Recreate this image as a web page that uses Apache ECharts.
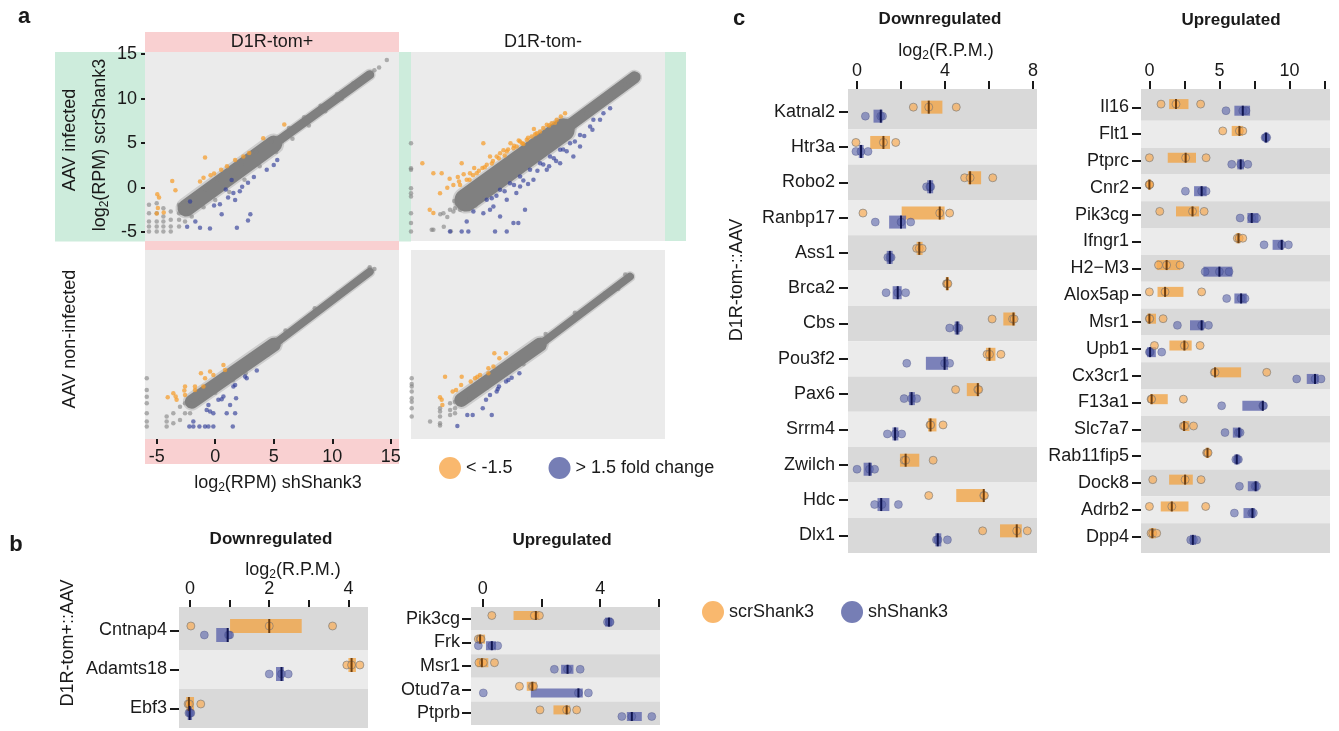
<!DOCTYPE html>
<html><head><meta charset="utf-8">
<script src="https://cdn.jsdelivr.net/npm/echarts@6/dist/echarts.min.js"></script>
<style>html,body{margin:0;padding:0;background:#fff}#c{width:1339px;height:731px}</style>
</head><body><div id="c"></div>
<script>
// ================= DATA =================
// ---- panel a: scatter, x = log2(RPM) shShank3, y = log2(RPM) scrShank3 ----
const aTickValues = [-5, 0, 5, 10, 15];
// top-left: AAV infected, D1R-tom+
const tlCoreLo = [[-2.5, -2.3], [5.0, 4.9]];
const tlCoreHi = [[4.5, 4.4], [13.2, 12.7]];
const tlGray = [[-5.66,-1.93],[-5.66,-2.87],[-5.66,-3.8],[-5.66,-4.37],[-5.66,-4.93],[-5.0,-1.75],[-5.0,-2.87],[-5.0,-3.8],[-5.0,-4.37],[-5.0,-4.93],
  [-4.43,-2.31],[-4.43,-3.24],[-4.43,-3.8],[-4.43,-4.37],[-4.43,-4.93],[-3.8,-2.68],[-3.8,-3.62],[-3.8,-4.37],[-3.8,-4.93],[-3.09,-1.93],
  [-3.09,-2.87],[-3.09,-3.62],[-3.09,-4.37],[-2.58,-1.75],[-2.58,-2.87],[-2.58,-3.8],[-2.01,-2.31],[-2.01,-3.24],
  [-1.5,-0.6],[-0.8,-0.2],[0.2,0.9],[1.0,1.6],[2.2,2.6],[3.5,4.0],[4.8,5.2],[6.3,6.7],[7.6,7.9],[9.0,9.2],[10.4,10.5],[11.8,11.7],
  [-1.0,-2.2],[0.0,-1.4],[1.2,-0.5],[2.5,0.9],[3.8,2.4],[5.2,4.0],[6.6,5.5],[8.0,7.0],[9.4,8.6],[10.8,10.0],[12.2,11.6],
  [13.6,13.2],[14.0,13.5],[14.66,14.36],[13.0,12.7],[12.5,12.2]];
const tlUp = [[-4.95,-0.73],[-4.8,-1.1],[-4.9,-2.3],[-5.0,-2.9],[-4.4,-2.8],[-3.67,0.76],[-3.4,-0.3],[-1.3,0.69],[-1.0,1.1],[-0.87,3.38],
  [-0.4,1.4],[-0.1,1.6],[0.5,2.0],[1.0,2.4],[1.7,3.1],[2.4,3.5],[2.9,3.9],[4.1,5.56],[5.9,7.1]];
const tlDown = [[-2.15,-1.56],[-1.7,-3.8],[-2.4,-4.4],[-1.3,-4.5],[-0.45,-4.6],[-0.1,-2.0],[0.4,-1.87],[0.55,-3.0],[1.1,-1.1],[1.4,0.87],
  [1.55,-0.6],[1.7,-1.4],[1.85,-4.5],[2.1,-0.4],[2.8,0.55],[2.8,-3.7],[3.0,-3.0],[3.3,1.2],[4.4,2.0],[5.0,2.55],[5.3,3.1],[0.9,-0.2],[2.3,0.1]];
// top-right: AAV infected, D1R-tom-
const trCoreLo = [[-1.3, -1.4], [7.0, 6.5]];
const trCoreHi = [[6.5, 6.0], [13.1, 12.4]];
const trGray = [[-6,4.99],[-6,2.19],[-6,2.0],[-6,-0.06],[-6,-0.62],[-6,-1.0],[-6,-2.87],[-6,-3.99],[-6,-4.93],
  [-4.23,-4.74],[-4.09,-4.74],[-3.23,-2.87],[-2.67,-2.49],[-2.38,-2.68],[-2.24,-2.31],[-2.1,-1.8],[-1.8,-2.5],[-1.4,-2.1],
  [-3.5,-3.0],[-2.9,-3.3],[-2.6,-4.9],[-3.2,-4.4],[-2.3,-1.5],[-0.5,-2.0],[0.3,-1.2],
  [13.4,12.6],[12.0,11.6],[11.0,10.2],[10.3,9.9],[9.0,8.3],[12.6,11.9]];
const trUp = [[-1.81,0.31],[-1.24,0.88],[-0.39,1.63],[0.47,2.57],[1.32,3.5],[2.18,4.06],[3.03,4.62],[3.89,5.37],[4.74,6.12],[5.6,7.06],[6.45,7.62],[7.16,8.37],
  [-1.67,2.75],[0.18,5.0],[-5.03,2.75],[-4.09,1.63],[-3.38,1.63],[-3.52,-0.62],[-4.09,-2.86],[-2.38,0.31],[-0.96,1.63],[0.75,3.5],[1.61,3.87],[2.75,4.43],
  [3.32,5.19],[4.31,5.75],[5.02,6.31],[6.02,7.24],[-2.0,1.2],[-1.5,1.5],[-0.6,2.2],[0.1,2.2],[1.0,3.0],[2.0,3.6],[2.5,5.0],[3.6,4.9],[4.5,6.6],
  [-2.9,0.0],[-4.4,-2.5],[-2.7,1.0],[-1.0,0.9],[-0.2,1.9],[0.3,2.3],[0.9,2.7],[1.5,3.3],[2.3,4.3],[2.8,4.7],[3.5,5.0],[4.0,5.6],[4.6,6.0],
  [5.3,6.7],[5.8,7.0],[6.3,7.3],[6.8,8.0],[-1.9,0.7],[-0.7,1.4],[1.9,4.2],[3.2,5.3]];
const trDown = [[-0.67,-2.68],[0.47,-1.37],[1.61,-0.24],[2.46,0.5],[3.32,1.25],[4.17,2.0],[5.03,2.75],[5.88,3.5],[6.74,4.25],[7.59,5.0],[8.44,5.93],
  [9.3,6.87],[10.15,7.62],[11.01,8.93],[8.44,4.62],[7.87,3.5],[6.74,2.75],[5.6,2.0],[4.46,0.88],[3.32,0.13],[2.18,-1.37],[1.04,-2.12],[0.18,-2.87],
  [-1.24,-3.8],[-2.67,-4.93],[-1.67,-4.93],[-1.1,-4.93],[1.18,-4.93],[2.18,-4.93],[2.75,-3.99],[3.17,-3.99],[3.74,-2.49],[1.61,-3.24],[0.75,-2.49],
  [9.58,7.62],[10.44,8.37],[0.9,-1.2],[1.3,-0.9],[2.0,-0.4],[2.8,0.3],[3.6,0.8],[4.8,1.9],[5.3,2.6],[6.2,3.3],[7.0,4.3],[7.3,4.1],[8.0,5.2],
  [8.8,5.8],[9.5,6.5],[3.0,-0.6],[4.0,0.4],[5.8,2.4],[6.4,3.0]];
// bottom-left: AAV non-infected, D1R-tom+
const blCoreLo = [[-2.0, -1.8], [5.0, 4.6]];
const blCoreHi = [[4.5, 4.1], [13.2, 12.8]];
const blGray = [[-5.85,0.83],[-5.85,-0.49],[-5.85,-1.24],[-5.85,-1.99],[-5.85,-3.1],[-5.85,-4.04],[-5.85,-4.6],[-4.15,-3.48],[-4.15,-4.6],[-4.15,-4.04],
  [-3.58,-3.1],[-3.58,-4.23],[-3.01,-2.36],[-3.01,-3.86],[-2.58,-1.99],[-2.58,-3.1],[-2.15,-1.6],[-2.15,-3.1],[-1.2,-1.5],[0.0,-0.8],[1.5,0.6],
  [3.0,3.4],[6.0,6.2],[8.5,8.7],[10.5,10.4],[12.0,11.7],[13.6,13.1],[13.2,13.3],[2.6,1.4],[4.5,3.5]];
const blUp = [[-4.06,-1.3],[-3.38,-1.22],[-3.3,-1.6],[-2.58,-0.11],[-2.64,-0.56],[-2.58,-1.05],[-1.73,-0.11],[-1.73,-0.49],[-1.22,1.39],[-0.87,0.83],
  [-0.44,1.58],[-0.16,1.2],[-1.01,-0.11],[0.7,2.33],[0.84,1.77],[-3.58,-0.85]];
const blDown = [[-2.21,-4.6],[-1.87,-4.6],[-1.35,-4.6],[-0.87,-4.6],[-0.58,-4.6],[-0.16,-4.6],[1.5,-4.6],[-1.87,-4.04],[-0.73,-2.73],[-0.44,-2.92],
  [-0.16,-3.1],[0.27,-1.6],[0.55,-1.53],[0.7,-1.23],[0.98,-3.1],[1.27,-2.17],[1.7,-3.1],[1.78,-1.42],[1.55,-0.11],[1.7,0.08],[2.69,0.83],
  [3.55,1.69],[2.55,1.02],[-0.58,-2.17]];
// bottom-right: AAV non-infected, D1R-tom-
const brCoreLo = [[-1.7, -1.6], [5.0, 4.6]];
const brCoreHi = [[4.5, 4.1], [12.7, 12.25]];
const brGray = [[-5.94,0.83],[-5.94,0.19],[-5.94,-0.11],[-5.94,-0.67],[-5.94,-1.42],[-5.94,-1.8],[-5.94,-2.54],[-5.94,-3.48],[-4.37,-4.04],
  [-3.52,-2.54],[-3.52,-2.92],[-3.52,-3.48],[-3.52,-4.23],[-3.52,-4.48],[-2.66,-1.99],[-2.66,-2.73],[-2.66,-3.29],[-2.24,-1.8],[-2.24,-2.54],
  [-2.24,-3.1],[-1.0,-1.6],[0.5,-0.2],[2.4,2.7],[5.5,5.8],[8.0,8.2],[10.6,10.4],[12.86,12.33],[12.3,12.5],[11.7,10.9],[3.6,2.4]];
const brUp = [[-3.09,1.01],[-1.67,1.01],[-1.72,0.08],[-2.44,-0.67],[-2.15,-0.49],[-0.9,0.46],[-0.53,0.83],[-0.33,1.01],[-0.1,1.2],[0.61,1.95],
  [1.04,2.14],[1.12,3.64],[1.55,3.08],[2.12,3.64],[-3.52,-1.3],[-3.38,-1.6],[-3.32,-2.17],[0.61,1.39]];
const brDown = [[-2.04,-4.53],[-1.19,-3.29],[-0.73,-3.29],[0.13,-2.54],[0.9,-3.29],[0.41,-1.6],[0.75,-1.04],[1.41,-0.37],[1.52,-0.11],[2.12,0.46],
  [2.32,0.64],[2.6,0.9],[3.26,1.39],[1.32,-0.67]];

// ---- panel b: D1R-tom+::AAV, log2(R.P.M.) ----
const bDownGenes = ['Cntnap4', 'Adamts18', 'Ebf3'];
const bDownScr = [[0.02, 2.0, 3.6], [3.96, 4.08, 4.29], [-0.05, -0.02, 0.27]];
const bDownScrBar = [[1.01, 2.82], [4.0, 4.19], [-0.1, 0.1]];
const bDownScrMid = [2.0, 4.08, -0.03];
const bDownSh = [[0.36, 0.97, 1.0], [2.0, 2.31, 2.48], [-0.03, 0.0, 0.02]];
const bDownShBar = [[0.66, 0.97], [2.17, 2.37], [-0.06, 0.05]];
const bDownShMid = [0.95, 2.31, -0.01];

const bUpGenes = ['Pik3cg', 'Frk', 'Msr1', 'Otud7a', 'Ptprb'];
const bUpScr = [[0.31, 1.76, 1.93], [-0.15, -0.09, -0.06], [-0.13, 0.02, 0.4], [1.25, 1.69, 1.73], [1.95, 2.86, 3.2]];
const bUpScrBar = [[1.05, 1.93], [-0.2, 0.08], [-0.2, 0.19], [1.5, 1.84], [2.41, 2.98]];
const bUpScrMid = [1.81, -0.09, -0.03, 1.69, 2.86];
const bUpSh = [[4.25, 4.32, 4.34], [-0.15, 0.31, 0.51], [2.44, 2.89, 3.32], [0.02, 3.26, 3.6], [4.74, 5.08, 5.76]];
const bUpShBar = [[4.17, 4.4], [0.11, 0.45], [2.67, 3.09], [1.64, 3.41], [4.91, 5.42]];
const bUpShMid = [4.3, 0.31, 2.89, 3.26, 5.08];

// ---- panel c: D1R-tom-::AAV ----
const cDownGenes = ['Katnal2', 'Htr3a', 'Robo2', 'Ranbp17', 'Ass1', 'Brca2', 'Cbs', 'Pou3f2', 'Pax6', 'Srrm4', 'Zwilch', 'Hdc', 'Dlx1'];
const cDownScr = [[2.56,3.26,4.51],[-0.05,1.2,1.76],[4.89,5.14,6.17],[0.27,3.76,4.21],[2.71,2.83,2.96],[4.07,4.1,4.13],[6.14,7.07,7.14],
  [5.91,6.02,6.54],[4.48,5.49,5.53],[3.32,3.35,3.91],[2.15,2.21,3.46],[3.26,5.76,5.79],[5.71,7.26,7.74]];
const cDownScrBar = [[2.92,3.88],[0.6,1.5],[5.04,5.64],[2.03,3.98],[2.71,2.98],[4.03,4.18],[6.65,7.19],[5.86,6.29],[4.99,5.56],[3.23,3.61],
  [1.95,2.83],[4.51,5.79],[6.5,7.49]];
const cDownScrMid = [3.26,1.2,5.14,3.76,2.83,4.1,7.11,6.02,5.49,3.34,2.21,5.76,7.26];
const cDownSh = [[0.38,1.08,1.16],[-0.05,0.18,0.5],[3.16,3.31,3.35],[0.83,2.0,2.44],[1.4,1.5,1.55],[1.32,1.85,2.21],[4.21,4.54,4.63],
  [2.26,3.98,4.21],[2.14,2.48,2.71],[1.38,1.73,2.03],[0.0,0.57,0.8],[0.8,1.13,1.88],[3.61,3.68,4.11]];
const cDownShBar = [[0.75,1.16],[0.08,0.3],[3.19,3.46],[1.46,2.23],[1.35,1.62],[1.62,2.03],[4.44,4.66],[3.13,4.14],[2.36,2.63],[1.61,1.88],
  [0.3,0.68],[0.93,1.47],[3.56,3.83]];
const cDownShMid = [1.08,0.18,3.32,2.0,1.49,1.85,4.56,3.98,2.48,1.73,0.57,1.1,3.67];

const cUpGenes = ['Il16', 'Flt1', 'Ptprc', 'Cnr2', 'Pik3cg', 'Ifngr1', 'H2\u2212M3', 'Alox5ap', 'Msr1', 'Upb1', 'Cx3cr1', 'F13a1', 'Slc7a7', 'Rab11fip5', 'Dock8', 'Adrb2', 'Dpp4'];
const cUpScr = [[0.83,1.9,3.66],[5.24,6.43,6.67],[0,2.59,4.05],[0,0,0.02],[0.74,3.08,3.91],[6.28,6.41,6.67],[0.65,1.23,2.19],[0,1.12,3.73],
  [0,0.02,0.98],[0.36,2.5,3.62],[4.64,4.69,8.38],[0.12,0.16,2.43],[2.43,2.52,3.15],[4.09,4.15,4.19],[0.24,2.55,3.69],[0,1.6,4.02],[0.12,0.24,0.52]];
const cUpScrBar = [[1.41,2.79],[5.88,6.67],[1.31,3.33],[-0.1,0.12],[1.9,3.55],[6.17,6.52],[0.52,2.19],[0.58,2.43],[-0.16,0.47],[1.43,3.02],
  [4.64,6.55],[0.05,1.31],[2.38,2.86],[4.0,4.29],[1.41,3.1],[0.81,2.79],[0,0.47]];
const cUpScrMid = [1.9,6.43,2.59,0,3.08,6.36,1.23,1.12,0,2.5,4.69,0.16,2.48,4.15,2.55,1.6,0.21];
const cUpSh = [[5.47,6.67,6.9],[8.26,8.33,8.38],[5.88,6.52,7.03],[2.57,3.73,4.05],[6.48,7.31,7.66],[8.19,9.45,9.93],[3.98,5.0,5.69],
  [5.52,6.55,6.83],[2.0,3.73,4.22],[0,0.05,0.88],[10.52,11.83,12.26],[5.16,8.1,8.15],[5.4,6.36,6.48],[6.17,6.28,6.36],[6.43,7.55,7.66],
  [6.07,7.31,7.43],[2.95,3.15,3.38]];
const cUpShBar = [[6.07,7.19],[8.19,8.5],[6.28,6.76],[3.19,4.09],[7.0,7.79],[8.8,9.58],[3.86,5.92],[6.07,6.95],[2.9,3.91],[-0.16,0.46],
  [11.24,12.08],[6.64,8.15],[5.96,6.55],[6.07,6.43],[7.03,7.79],[6.72,7.55],[2.9,3.33]];
const cUpShMid = [6.67,8.33,6.52,3.73,7.31,9.45,5.0,6.55,3.73,0.05,11.83,8.1,6.41,6.24,7.59,7.36,3.1];

// ================= STYLE / BUILD =================
const FONT = '"Liberation Sans", Arial, Helvetica, sans-serif';
const INK = '#1a1a1a';
const PINK = '#f9d0d1', GREEN = '#cdecdc', BG = '#ebebeb', BAND_D = '#d9d9d9', BAND_L = '#ebebeb';

const chart = echarts.init(document.getElementById('c'));

const grids = [
  {left:145, top:52, width:254, height:189},
  {left:411, top:52, width:254, height:189},
  {left:145, top:250, width:254, height:189},
  {left:411, top:250, width:254, height:189},
  {left:179, top:611, width:189, height:117},
  {left:471, top:607, width:189, height:118},
  {left:848, top:94, width:189, height:459},
  {left:1141, top:94, width:189, height:456}
].map((g, i) => Object.assign(g, i < 4 ? {show:true, backgroundColor:BG, borderWidth:0} : {show:false}));

const lbl = (extra) => Object.assign({fontFamily:FONT, fontSize:18, color:INK}, extra);
const tick = (len) => ({show:true, length:len, lineStyle:{color:INK, width:2}});
const noLine = {show:false, onZero:false};

function aX(showAx) {
  return {type:'value', min:-6, max:15.7, show:showAx, position:'bottom', splitLine:{show:false}, axisLine:noLine,
    axisTick:Object.assign(tick(5), {customValues:aTickValues}), axisLabel:lbl({margin:9, customValues:aTickValues})};
}
function aY(showAx) {
  return {type:'value', min:-6, max:15.25, show:showAx, position:'left', splitLine:{show:false}, axisLine:noLine,
    axisTick:Object.assign(tick(4), {customValues:aTickValues}), axisLabel:lbl({margin:8, customValues:aTickValues})};
}
function topX(min, max, ticks, labels, offset, tlen) {
  return {type:'value', min, max, position:'top', offset, splitLine:{show:false}, axisLine:noLine,
    axisTick:Object.assign(tick(tlen), {customValues:ticks}), axisLabel:lbl({margin:9, customValues:labels})};
}
function catY(genes, margin) {
  return {type:'category', data:genes, inverse:true, position:'left', axisLine:noLine,
    axisTick:Object.assign(tick(9), {alignWithLabel:true}), axisLabel:lbl({margin}),
    splitLine:{show:false}, splitArea:{show:true, areaStyle:{color:[BAND_D, BAND_L]}}};
}

const xAxes = [aX(false), aX(false), aX(true), aX(false),
  topX(-0.28, 4.495, [0,1,2,3,4], [0,2,4], 4, 7),
  topX(-0.4, 6.04, [0,2,4,6], [0,4], 0, 8),
  topX(-0.41, 8.18, [0,2,4,6,8], [0,4,8], 5, 8),
  topX(-0.6, 12.9, [0,2.5,5,7.5,10,12.5], [0,5,10], 5, 8)];
xAxes.forEach((a, i) => a.gridIndex = i);
const yAxes = [aY(true), aY(false), aY(false), aY(false),
  catY(bDownGenes, 12), catY(bUpGenes, 11), catY(cDownGenes, 13), catY(cUpGenes, 12)];
yAxes.forEach((a, i) => a.gridIndex = i);

const series = [];
const ORANGE_PT = 'rgba(245,155,40,0.9)', BLUE_PT = 'rgba(45,58,150,0.8)', GRAY_PT = 'rgba(128,128,128,0.75)';
function aPanel(i, coreLo, coreHi, wLo, wHi, gray, up, down) {
  const line = (data, w, color, z) => ({type:'line', xAxisIndex:i, yAxisIndex:i, data, symbol:'none', silent:true, z,
    lineStyle:{width:w, color, cap:'round'}});
  series.push(line(coreLo, wLo + 4, 'rgba(135,135,135,0.3)', 1), line(coreHi, wHi + 3, 'rgba(135,135,135,0.3)', 1));
  series.push(line(coreLo, wLo, '#808080', 2), line(coreHi, wHi, '#808080', 2));
  series.push({type:'scatter', name:'not changed', xAxisIndex:i, yAxisIndex:i, data:gray, symbolSize:4.5, silent:true, z:2, itemStyle:{color:GRAY_PT}});
  series.push({type:'scatter', name:'< -1.5', xAxisIndex:i, yAxisIndex:i, data:up, symbolSize:4.5, silent:true, z:3, itemStyle:{color:ORANGE_PT}});
  series.push({type:'scatter', name:'> 1.5 fold change', xAxisIndex:i, yAxisIndex:i, data:down, symbolSize:4.5, silent:true, z:3, itemStyle:{color:BLUE_PT}});
}
aPanel(0, tlCoreLo, tlCoreHi, 17, 9, tlGray, tlUp, tlDown);
aPanel(1, trCoreLo, trCoreHi, 23, 12, trGray, trUp, trDown);
aPanel(2, blCoreLo, blCoreHi, 14, 8, blGray, blUp, blDown);
aPanel(3, brCoreLo, brCoreHi, 14, 8, brGray, brUp, brDown);

function dotPanel(gi, scr, scrBar, scrMid, sh, shBar, shMid, off, h, sym) {
  const groups = [
    {name:'scrShank3', pts:scr, bar:scrBar, mid:scrMid, dy:-off, barColor:'rgba(242,160,60,0.75)', ptColor:'rgba(250,172,82,0.85)', ptBorder:'#777', midColor:'#6e3f10'},
    {name:'shShank3', pts:sh, bar:shBar, mid:shMid, dy:off, barColor:'rgba(85,93,168,0.75)', ptColor:'rgba(85,95,168,0.72)', ptBorder:'rgba(60,65,120,0.5)', midColor:'#101550'}
  ];
  groups.forEach(g => {
    series.push({type:'custom', name:g.name + ' range', xAxisIndex:gi, yAxisIndex:gi, z:2, silent:true,
      data:g.bar.map((b, i) => [b[0], b[1], i]), encode:{x:[0, 1], y:2},
      renderItem:(p, api) => {
        const a = api.coord([api.value(0), api.value(2)]);
        const b = api.coord([api.value(1), api.value(2)]);
        return {type:'rect', shape:{x:a[0], y:a[1] + g.dy - h / 2, width:b[0] - a[0], height:h}, style:{fill:g.barColor}};
      }});
    const pts = [];
    g.pts.forEach((arr, i) => arr.forEach(v => pts.push([v, i])));
    series.push({type:'scatter', name:g.name, xAxisIndex:gi, yAxisIndex:gi, z:3, silent:true, data:pts, symbolSize:sym,
      symbolOffset:[0, g.dy], itemStyle:{color:g.ptColor, borderColor:g.ptBorder, borderWidth:0.8}});
    series.push({type:'custom', name:g.name + ' median', xAxisIndex:gi, yAxisIndex:gi, z:4, silent:true,
      data:g.mid.map((m, i) => [m, i]), encode:{x:0, y:1},
      renderItem:(p, api) => {
        const a = api.coord([api.value(0), api.value(1)]);
        return {type:'rect', shape:{x:a[0] - 1, y:a[1] + g.dy - h / 2, width:2, height:h}, style:{fill:g.midColor}};
      }});
  });
}
dotPanel(4, bDownScr, bDownScrBar, bDownScrMid, bDownSh, bDownShBar, bDownShMid, 4.5, 14, 8);
dotPanel(5, bUpScr, bUpScrBar, bUpScrMid, bUpSh, bUpShBar, bUpShMid, 3.3, 9, 8);
dotPanel(6, cDownScr, cDownScrBar, cDownScrMid, cDownSh, cDownShBar, cDownShMid, 4.5, 13, 8);
dotPanel(7, cUpScr, cUpScrBar, cUpScrMid, cUpSh, cUpShBar, cUpShMid, 3.3, 10, 8);

// ---- decorations & titles ----
const rect = (x, y, w, h, fill) => ({type:'rect', z:-10, shape:{x, y, width:w, height:h}, style:{fill}});
const txt = (x, y, text, o) => {
  o = o || {};
  const st = {text, fontFamily:FONT, fontSize:o.size || 18, fontWeight:o.bold ? 'bold' : 'normal', fill:INK,
    align:'center', verticalAlign:'middle', textAlign:'center', textVerticalAlign:'middle'};
  if (o.rich) st.rich = o.rich;
  return {type:'text', x, y, z:50, rotation:o.rot ? Math.PI / 2 : 0, style:st};
};
const subRich = {n:{fontFamily:FONT, fontSize:18, lineHeight:22, fill:INK}, s:{fontFamily:FONT, fontSize:12, lineHeight:12, padding:[10, 0, 0, 0], fill:INK}};

const graphic = [
  rect(145, 32, 254, 20, PINK), rect(55, 52, 90, 189, GREEN), rect(399, 52, 12, 189, GREEN), rect(665, 52, 21, 189, GREEN),
  rect(55, 240, 356, 1.5, GREEN), rect(145, 241, 254, 9, PINK), rect(145, 439, 254, 25, PINK),
  rect(179, 607, 189, 4, BAND_D), rect(848, 89, 189, 5, BAND_D), rect(1141, 89, 189, 5, BAND_D), rect(1141, 550, 189, 3, BAND_D),
  txt(24, 17, 'a', {bold:true, size:22}), txt(16, 545, 'b', {bold:true, size:22}), txt(739, 19, 'c', {bold:true, size:22}),
  txt(272, 42, 'D1R-tom+'), txt(543, 42, 'D1R-tom-'),
  txt(70, 140, 'AAV infected', {rot:true}), txt(70, 339, 'AAV non-infected', {rot:true}),
  txt(100, 145, '{n|log}{s|2}{n|(RPM) scrShank3}', {rot:true, rich:subRich}),
  txt(278, 483, '{n|log}{s|2}{n|(RPM) shShank3}', {rich:subRich}),
  txt(271, 539, 'Downregulated', {bold:true, size:17}), txt(293, 570, '{n|log}{s|2}{n|(R.P.M.)}', {rich:subRich}),
  txt(562, 540, 'Upregulated', {bold:true, size:17}), txt(68, 643, 'D1R-tom+::AAV', {rot:true}),
  txt(940, 19, 'Downregulated', {bold:true, size:17}), txt(946, 51, '{n|log}{s|2}{n|(R.P.M.)}', {rich:subRich}),
  txt(1231, 20, 'Upregulated', {bold:true, size:17}), txt(737, 280, 'D1R-tom-::AAV', {rot:true})
];

const legText = {fontFamily:FONT, fontSize:18, color:INK};
chart.setOption({
  animation:false,
  textStyle:{fontFamily:FONT},
  grid:grids, xAxis:xAxes, yAxis:yAxes, series, graphic,
  legend:[
    {left:434, top:452, icon:'circle', itemWidth:22, itemHeight:22, itemGap:36, selectedMode:false, textStyle:legText,
      data:[{name:'< -1.5', itemStyle:{color:'#f7a64a', borderWidth:0}}, {name:'> 1.5 fold change', itemStyle:{color:'#545ea3', borderWidth:0}}]},
    {left:697, top:596, icon:'circle', itemWidth:22, itemHeight:22, itemGap:27, selectedMode:false, textStyle:legText,
      data:[{name:'scrShank3', itemStyle:{color:'#f7a64a', borderWidth:0}}, {name:'shShank3', itemStyle:{color:'#545ea3', borderWidth:0}}]}
  ]
});
</script></body></html>
